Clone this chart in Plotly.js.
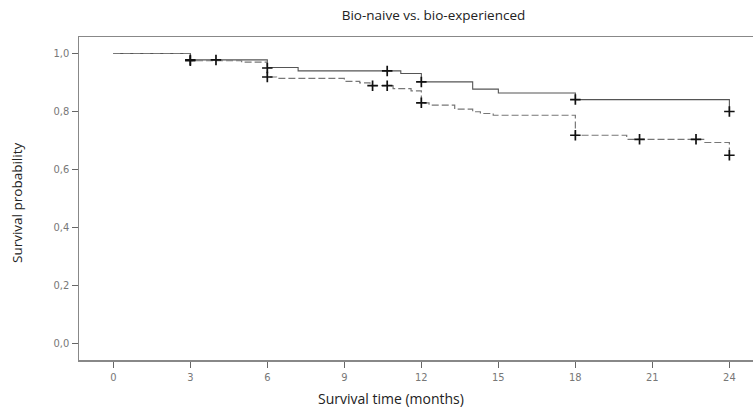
<!DOCTYPE html>
<html>
<head>
<meta charset="utf-8">
<script src="https://cdn.plot.ly/plotly-3.0.1.min.js"></script>
<style>html,body{margin:0;padding:0;background:#fff}#chart{width:753px;height:413px}</style>
</head>
<body>
<div id="chart"></div>
<script>
// Solid curve (group 1)
var solidTimes = [0, 3, 6, 7.2, 11.2, 12, 14, 15, 18, 24];
var solidSurv  = [1.0, 0.978, 0.952, 0.94, 0.931, 0.902, 0.877, 0.864, 0.841, 0.80];
var solidCensorT = [3, 4, 6, 10.67, 12, 18, 24];
var solidCensorS = [0.978, 0.978, 0.950, 0.94, 0.902, 0.841, 0.80];

// Dashed curve (group 2)
var dashedTimes = [0, 3, 5, 6, 6.36, 9.0, 9.6, 10.0, 10.9, 11.6, 12, 12.3, 13.3, 14.0, 14.3, 14.8, 18, 20.0, 23.0, 24];
var dashedSurv  = [1.0, 0.975, 0.970, 0.919, 0.914, 0.904, 0.899, 0.889, 0.879, 0.871, 0.83, 0.822, 0.808, 0.799, 0.793, 0.787, 0.718, 0.704, 0.693, 0.649];
var dashedCensorT = [3, 6, 10.1, 10.67, 12, 18, 20.5, 22.7, 24];
var dashedCensorS = [0.975, 0.919, 0.889, 0.889, 0.83, 0.718, 0.704, 0.704, 0.649];

var xTicks = [0, 3, 6, 9, 12, 15, 18, 21, 24];
var yTicks = [0, 0.2, 0.4, 0.6, 0.8, 1.0];

var titleText = "Bio-naive vs. bio-experienced";
var xTitle = "Survival time (months)";
var yTitle = "Survival probability";

var markerStyle = {symbol: 'cross-thin', size: 7.5, line: {width: 1.7, color: '#111'}};

var traces = [
  {x: solidTimes, y: solidSurv, mode: 'lines', line: {shape: 'hv', color: '#555', width: 1.1}, hoverinfo: 'skip'},
  {x: dashedTimes, y: dashedSurv, mode: 'lines', line: {shape: 'hv', color: '#777', width: 1.2, dash: '7px,3px'}, hoverinfo: 'skip'},
  {x: solidCensorT, y: solidCensorS, mode: 'markers', marker: markerStyle},
  {x: dashedCensorT, y: dashedCensorS, mode: 'markers', marker: markerStyle}
];

var tickFont = {family: '"Liberation Sans Narrow", "DejaVu Sans Condensed", Arial, sans-serif', size: 11, color: '#777'};
var fontFam = '"Open Sans", "Noto Sans", sans-serif';

var layout = {
  width: 753, height: 413,
  margin: {l: 79, r: 0, t: 37, b: 53, pad: 0},
  showlegend: false,
  separators: ', ',
  paper_bgcolor: '#fff', plot_bgcolor: '#fff',
  title: {text: titleText, font: {family: fontFam, size: 13.5, color: '#222'}, x: 396/753, xref: 'paper', xanchor: 'center', y: 1 - 15/413, yanchor: 'middle'},
  xaxis: {
    range: [-1.336, 24.92], tickvals: xTicks, ticks: 'outside', ticklen: 6, tickwidth: 1.3,
    tickcolor: '#666', showline: true, linecolor: '#888', linewidth: 1.5, mirror: true,
    showgrid: false, zeroline: false, tickfont: tickFont, fixedrange: true
  },
  yaxis: {
    range: [-0.0576, 1.057], tickvals: yTicks, tickformat: '.1f', ticks: 'outside', ticklen: 6, tickwidth: 1.3,
    tickcolor: '#666', showline: true, linecolor: '#888', linewidth: 1.5, mirror: true,
    showgrid: false, zeroline: false, tickfont: tickFont, fixedrange: true
  },
  annotations: [
    {text: xTitle, xref: 'paper', yref: 'paper', x: (391 - 79) / 674, y: -(398 - 360) / 323, xanchor: 'center', yanchor: 'middle', showarrow: false, font: {family: fontFam, size: 14, color: '#222'}},
    {text: yTitle, xref: 'paper', yref: 'paper', x: (17 - 79) / 674, y: (360 - 203) / 323, xanchor: 'center', yanchor: 'middle', textangle: -90, showarrow: false, font: {family: fontFam, size: 13.5, color: '#222'}}
  ]
};

Plotly.newPlot('chart', traces, layout, {staticPlot: true, displayModeBar: false});
</script>
</body>
</html>
